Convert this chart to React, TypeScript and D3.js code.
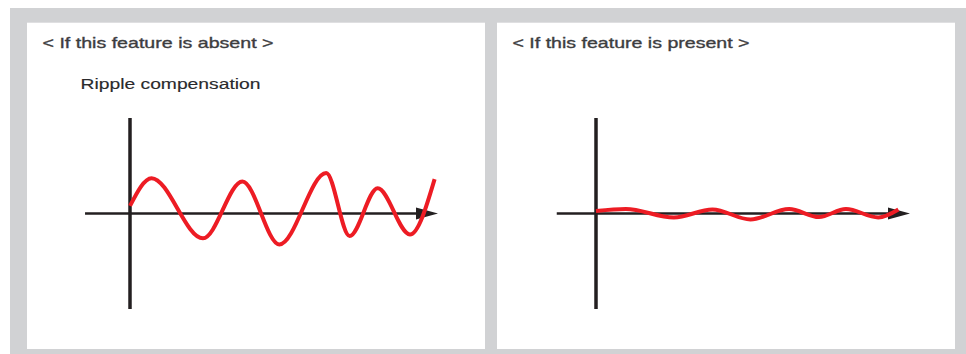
import React from "react";
import * as d3 from "d3";

// ---- Data ----
const panelTitles = ["< If this feature is absent >", "< If this feature is present >"];
const panelSubtitles = ["Ripple compensation", ""];

// time (0..100 along the x-axis) and amplitude (-100..100), at the turning points
const absentT = [0, 7, 23.7, 36.5, 48.5, 63.7, 71.3, 80.4, 90.9, 98.9];
const absentA = [8, 37, -26, 33.5, -32.5, 42.4, -23.6, 26.4, -22, 36];

const presentT = [0, 9.5, 24.8, 37.1, 49.2, 61.5, 71, 79.6, 89.9, 96.3];
const presentA = [2.6, 4.7, -4.2, 4.2, -6.3, 4.7, -3.7, 4.7, -4.2, 4.2];

const axisStartT = [-14.6, -12.5];
const axisEndT = 100;

// ---- Layout ----
const W = 966;
const H = 354;
const panels = [
  { x0: 27, x1: 485, originX: 130, tipX: 438, titleX: 42.5, titleW: 231, subX: 80.5, subW: 180 },
  { x0: 497, x1: 955, originX: 596, tipX: 910, titleX: 512.5, titleW: 237, subX: 0, subW: 0 },
];
const seriesList = [
  { t: absentT, a: absentA },
  { t: presentT, a: presentA },
];

const yScale = d3.scaleLinear().domain([-100, 100]).range([309, 118]);

export default function App() {
  const red = "#ed1c24";
  const axisColor = "#231f20";
  return (
    <svg
      width={W}
      height={H}
      style={{ position: "absolute", left: 0, top: 0, display: "block" }}
      xmlns="http://www.w3.org/2000/svg"
    >
      <rect x={0} y={0} width={W} height={H} fill="#ffffff" />
      <rect x={10} y={8} width={W - 10} height={H - 8} fill="#d1d2d4" />
      {panels.map((p, i) => {
        const xScale = d3.scaleLinear().domain([0, axisEndT]).range([p.originX, p.tipX]);
        const s = seriesList[i];
        const pts: [number, number][] = s.t.map((t, k) => [t, s.a[k]]);
        const line = d3
          .line<[number, number]>()
          .x((d) => xScale(d[0]))
          .y((d) => yScale(d[1]))
          .curve(d3.curveMonotoneX);
        const y0 = yScale(0);
        const tip = xScale(axisEndT);
        const arrowLen = 22;
        const arrowHalf = 6;
        return (
          <g key={i}>
            <rect x={p.x0} y={22.7} width={p.x1 - p.x0} height={349 - 22.7} fill="#ffffff" />
            <text
              x={p.titleX}
              y={47.5}
              fontFamily="'Liberation Sans', Arial, Helvetica, sans-serif"
              fontSize={15}
              fill="#3d3d3f"
              stroke="#3d3d3f"
              strokeWidth={0.35}
              textLength={p.titleW}
              lengthAdjust="spacingAndGlyphs"
            >
              {panelTitles[i]}
            </text>
            {panelSubtitles[i] ? (
              <text
                x={p.subX}
                y={89}
                fontFamily="'Liberation Sans', Arial, Helvetica, sans-serif"
                fontSize={15}
                fill="#2a2a2c"
                stroke="#2a2a2c"
                strokeWidth={0.15}
                textLength={p.subW}
                lengthAdjust="spacingAndGlyphs"
              >
                {panelSubtitles[i]}
              </text>
            ) : null}
            {/* x axis */}
            <line
              x1={xScale(axisStartT[i])}
              x2={tip - arrowLen + 2}
              y1={y0}
              y2={y0}
              stroke={axisColor}
              strokeWidth={2.5}
            />
            <path
              d={`M${tip},${y0} L${tip - arrowLen},${y0 - arrowHalf} L${tip - arrowLen},${y0 + arrowHalf} Z`}
              fill={axisColor}
            />
            {/* y axis */}
            <line
              x1={xScale(0)}
              x2={xScale(0)}
              y1={yScale(100)}
              y2={yScale(-100)}
              stroke={axisColor}
              strokeWidth={3.5}
            />
            <path
              d={line(pts) || ""}
              fill="none"
              stroke={red}
              strokeWidth={4}
              strokeLinecap="butt"
              strokeLinejoin="round"
            />
          </g>
        );
      })}
    </svg>
  );
}
